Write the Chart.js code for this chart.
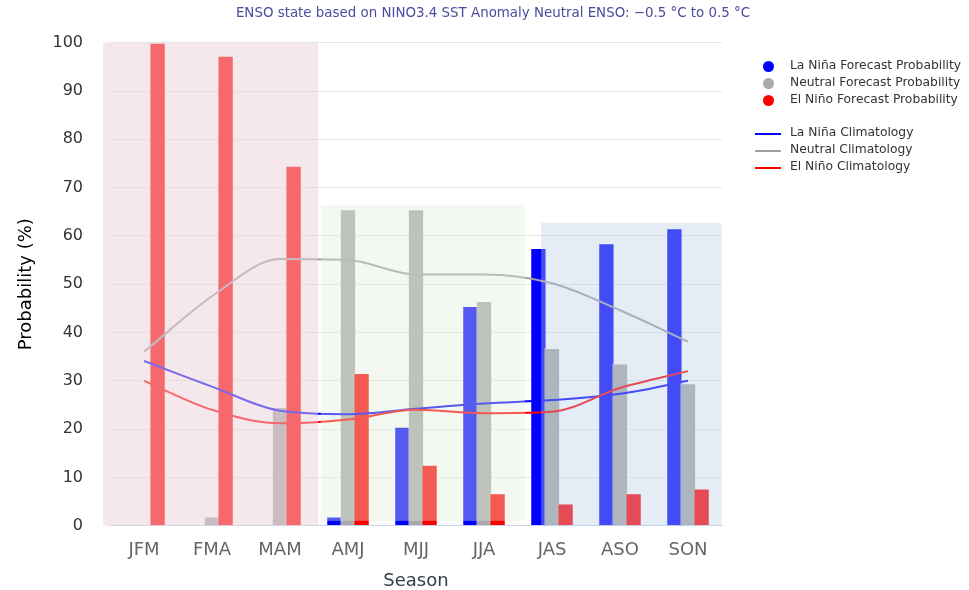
<!DOCTYPE html>
<html>
<head>
<meta charset="utf-8">
<script src="https://cdn.jsdelivr.net/npm/chart.js@4"></script>
<style>
  html, body { margin: 0; padding: 0; background: #fff; }
  #wrap { position: relative; width: 969px; height: 590px; overflow: hidden; }
  #title { position: absolute; top: 5px; left: 0; width: 986px; text-align: center;
           font: 13.4px "DejaVu Sans", sans-serif; color: #4b4a9e; white-space: nowrap; }
  canvas { position: absolute; left: 0; top: 0; }
  .row { position: absolute; left: 755px; height: 17px; line-height: 17px;
         font: 12.3px "DejaVu Sans", sans-serif; color: #333; white-space: nowrap; }
  .dot { position: absolute; left: 8px; top: 3px; width: 11px; height: 11px; border-radius: 50%; }
  .ln { position: absolute; left: 0; top: 8px; width: 26px; height: 2px; }
  .txt { position: absolute; left: 35px; top: 0; }
</style>
</head>
<body>
<div id="wrap">
  <canvas id="c" width="969" height="590"></canvas>
  <div id="title">ENSO state based on NINO3.4 SST Anomaly Neutral ENSO: −0.5 °C to 0.5 °C</div>
  <div id="legend"></div>
</div>
<script>
// ---- data ----
const seasons = ['JFM', 'FMA', 'MAM', 'AMJ', 'MJJ', 'JJA', 'JAS', 'ASO', 'SON'];
const laNinaProb  = [0, 0, 0, 1.9, 20.5, 45.5, 57.5, 58.5, 61.6];
const neutralProb = [0, 1.9, 24.6, 65.5, 65.5, 46.5, 36.8, 33.6, 29.5];
const elNinoProb  = [100, 97.3, 74.5, 31.6, 12.6, 6.7, 4.6, 6.7, 7.7];
const laNinaClim  = [34.1, 28.8, 23.8, 23.1, 24.2, 25.3, 26.0, 27.3, 30.0];
const neutralClim = [36.0, 47.5, 55.2, 55.0, 52.0, 52.0, 50.2, 44.6, 38.1];
const elNinoClim  = [30.0, 24.0, 21.2, 22.0, 24.0, 23.3, 23.6, 28.5, 32.0];
const yTickStep = 10;

// background bands (in category units / probability units)
const bandFrom = [-0.60, 2.60, 5.84];
const bandTo   = [2.56, 5.60, 8.49];
const bandLow  = [0, 1, 0];
const bandHigh = [100, 66.4, 62.7];
const bandColors = ['rgba(235,209,217,0.5)', 'rgba(224,237,216,0.38)', 'rgba(182,204,231,0.37)'];

const BLUE = '#0000ff', GRAY = '#a9a9a9', RED = '#ff0000';
const FONT = '"DejaVu Sans", sans-serif';

// draw datasets in index order (later ones on top), then the translucent bands over them
const layerPlugin = {
  id: 'layers',
  beforeDatasetDraw(chart) { return chart.$manualDraw === true; },
  afterDatasetsDraw(chart) {
    chart.$manualDraw = true;
    chart.data.datasets.forEach((d, i) => {
      const meta = chart.getDatasetMeta(i);
      if (typeof chart._drawDataset === 'function') chart._drawDataset(meta);
      else meta.controller.draw();
    });
    chart.$manualDraw = false;
    const { ctx, scales: { x, y } } = chart;
    ctx.save();
    bandFrom.forEach((f, i) => {
      const x0 = x.getPixelForValue(f), x1 = x.getPixelForValue(bandTo[i]);
      const y0 = y.getPixelForValue(bandHigh[i]), y1 = y.getPixelForValue(bandLow[i]);
      ctx.fillStyle = bandColors[i];
      ctx.fillRect(x0, y0, x1 - x0, y1 - y0);
    });
    ctx.restore();
  }
};

const barCommon = { type: 'bar', borderWidth: 1, borderColor: 'rgba(255,255,255,0.35)', borderSkipped: 'bottom',
                    categoryPercentage: 0.6, barPercentage: 1.2 };
const lineCommon = { type: 'line', borderWidth: 2, pointRadius: 0, cubicInterpolationMode: 'monotone', fill: false };

new Chart(document.getElementById('c'), {
  data: {
    labels: seasons,
    datasets: [
      Object.assign({ label: 'La Niña Forecast Probability', data: laNinaProb, backgroundColor: BLUE }, barCommon),
      Object.assign({ label: 'Neutral Forecast Probability', data: neutralProb, backgroundColor: GRAY }, barCommon),
      Object.assign({ label: 'El Niño Forecast Probability', data: elNinoProb, backgroundColor: RED }, barCommon),
      Object.assign({ label: 'La Niña Climatology', data: laNinaClim, borderColor: BLUE }, lineCommon),
      Object.assign({ label: 'Neutral Climatology', data: neutralClim, borderColor: '#a0a0a0' }, lineCommon),
      Object.assign({ label: 'El Niño Climatology', data: elNinoClim, borderColor: RED }, lineCommon)
    ]
  },
  options: {
    responsive: false,
    animation: false,
    layout: { padding: { top: 42.7, right: 247, left: 0, bottom: 0 } },
    plugins: { legend: { display: false }, tooltip: { enabled: false }, title: { display: false } },
    scales: {
      x: {
        grid: { display: false, drawTicks: false },
        border: { display: true, color: '#ccd6eb', width: 1 },
        ticks: { font: { family: FONT, size: 18 }, color: '#666', padding: 14 },
        title: { display: true, text: 'Season', font: { family: FONT, size: 18, lineHeight: 1.0 }, color: '#333d45',
                 padding: { top: 0, bottom: 0 } },
        afterFit(s) { s.height = 64.3; }
      },
      y: {
        min: 0, max: 100,
        grid: { color: '#e6e6e6', drawTicks: false },
        border: { display: false },
        ticks: { stepSize: yTickStep, font: { family: FONT, size: 16 }, color: '#333', padding: 27 },
        title: { display: true, text: 'Probability (%)', font: { family: FONT, size: 18 }, color: '#000',
                 padding: { top: 16, bottom: 0 } },
        afterFit(s) { s.width = 110; }
      }
    }
  },
  plugins: [layerPlugin]
});

// ---- HTML legend ----
const legendItems = [
  { t: 'La Niña Forecast Probability', c: BLUE, k: 'dot', y: 66 },
  { t: 'Neutral Forecast Probability', c: GRAY, k: 'dot', y: 83 },
  { t: 'El Niño Forecast Probability', c: RED, k: 'dot', y: 100 },
  { t: 'La Niña Climatology', c: BLUE, k: 'ln', y: 133 },
  { t: 'Neutral Climatology', c: '#a0a0a0', k: 'ln', y: 150 },
  { t: 'El Niño Climatology', c: RED, k: 'ln', y: 167 }
];
const lg = document.getElementById('legend');
legendItems.forEach(it => {
  const r = document.createElement('div');
  r.className = 'row';
  r.style.top = (it.y - 8.5) + 'px';
  const m = document.createElement('div');
  m.className = it.k;
  m.style.background = it.c;
  const s = document.createElement('span');
  s.className = 'txt';
  s.textContent = it.t;
  r.appendChild(m); r.appendChild(s);
  lg.appendChild(r);
});
</script>
</body>
</html>
